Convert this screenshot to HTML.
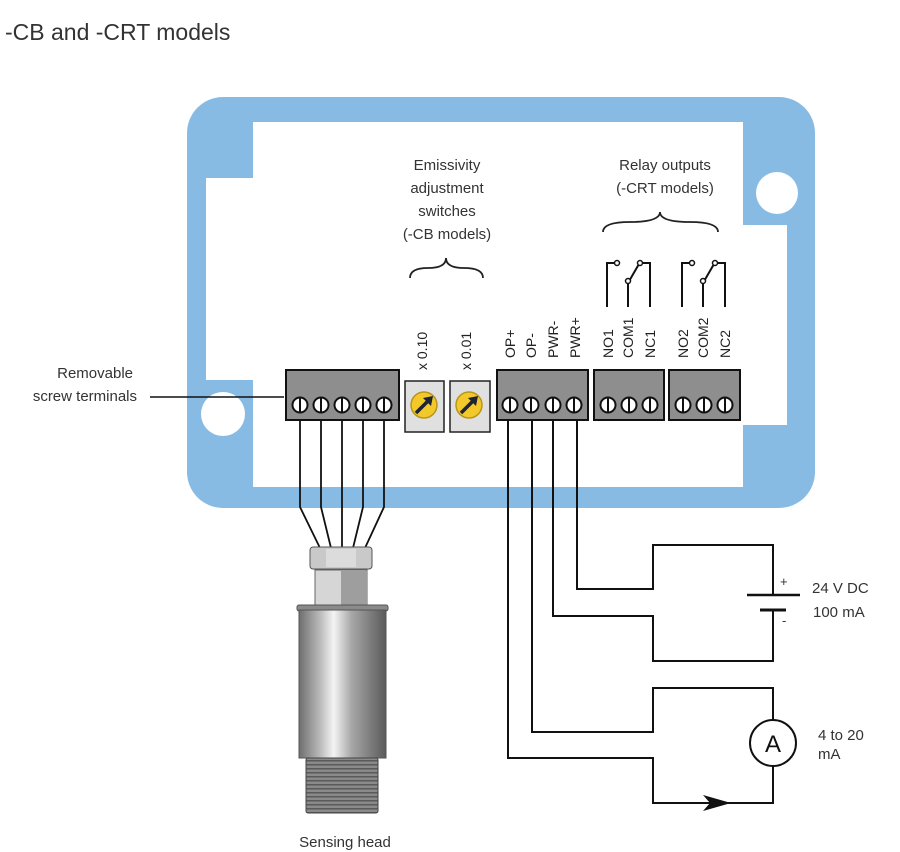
<!DOCTYPE html>
<html><head><meta charset="utf-8"><style>
html,body{margin:0;padding:0;background:#fff;}
svg{display:block;font-family:"Liberation Sans",sans-serif;}
</style></head><body>
<svg width="900" height="852" viewBox="0 0 900 852" xmlns="http://www.w3.org/2000/svg">
<defs>
<linearGradient id="cyl" x1="0" x2="1" y1="0" y2="0">
<stop offset="0" stop-color="#6e6e6e"/><stop offset="0.25" stop-color="#bdbdbd"/><stop offset="0.4" stop-color="#f4f4f4"/><stop offset="0.6" stop-color="#a8a8a8"/><stop offset="1" stop-color="#5a5a5a"/>
</linearGradient>
<pattern id="thr" width="10" height="4" patternUnits="userSpaceOnUse"><rect width="10" height="4" fill="#8a8a8a"/><rect width="10" height="1.5" fill="#5a5a5a"/></pattern>
</defs>
<text x="5" y="40" font-size="23" fill="#333">-CB and -CRT models</text>
<!-- enclosure -->
<rect x="187" y="97" width="628" height="411" rx="36" fill="#88bbe4"/>
<path d="M253 122 H743 V225 H787 V425 H743 V487 H253 V380 H206 V178 H253 Z" fill="#fff"/>
<circle cx="777" cy="193" r="21" fill="#fff"/>
<circle cx="223" cy="414" r="22" fill="#fff"/>
<!-- labels -->
<g font-size="15" fill="#333" text-anchor="middle">
<text x="447" y="170">Emissivity</text><text x="447" y="193">adjustment</text><text x="447" y="216">switches</text><text x="447" y="239">(-CB models)</text>
<text x="665" y="170">Relay outputs</text><text x="665" y="193">(-CRT models)</text>
</g>
<g font-size="15" fill="#333" text-anchor="end">
<text x="133" y="378">Removable</text><text x="137" y="401">screw terminals</text>
</g>
<line x1="150" y1="397" x2="284" y2="397" stroke="#111" stroke-width="1.5"/>
<g fill="none" stroke="#222" stroke-width="1.8">
<path d="M410 278 Q410 268 428 268 Q446 268 446 258 Q446 268 464 268 Q483 268 483 278"/>
<path d="M603 232 Q603 222 630 222 Q660 222 660 212 Q660 222 690 222 Q718 222 718 232"/>
</g>
<!-- relays -->
<g fill="none" stroke="#111" stroke-width="2">
<path d="M607 307 V263 H615"/><path d="M628 307 V283 L639 264"/><path d="M641 263 H650 V307"/>
<path d="M682 307 V263 H690"/><path d="M703 307 V283 L714 264"/><path d="M716 263 H725 V307"/>
</g>
<g fill="#fff" stroke="#111" stroke-width="1.5">
<circle cx="617" cy="263" r="2.5"/><circle cx="628" cy="281" r="2.5"/><circle cx="640" cy="263" r="2.5"/>
<circle cx="692" cy="263" r="2.5"/><circle cx="703" cy="281" r="2.5"/><circle cx="715" cy="263" r="2.5"/>
</g>
<!-- rotated labels -->
<g font-size="14" fill="#222">
<text transform="translate(427,370) rotate(-90)">x 0.10</text>
<text transform="translate(471,370) rotate(-90)">x 0.01</text>
<text transform="translate(515,358) rotate(-90)">OP+</text>
<text transform="translate(536,358) rotate(-90)">OP-</text>
<text transform="translate(558,358) rotate(-90)">PWR-</text>
<text transform="translate(580,358) rotate(-90)">PWR+</text>
<text transform="translate(613,358) rotate(-90)">NO1</text>
<text transform="translate(633,358) rotate(-90)">COM1</text>
<text transform="translate(655,358) rotate(-90)">NC1</text>
<text transform="translate(688,358) rotate(-90)">NO2</text>
<text transform="translate(708,358) rotate(-90)">COM2</text>
<text transform="translate(730,358) rotate(-90)">NC2</text>
</g>
<!-- terminal blocks -->
<g stroke="#111" stroke-width="2" fill="#8e8e8e">
<rect x="286" y="370" width="113" height="50"/>
<rect x="497" y="370" width="91" height="50"/>
<rect x="594" y="370" width="70" height="50"/>
<rect x="669" y="370" width="71" height="50"/>
</g>
<g fill="#fff" stroke="#111" stroke-width="2">
<circle cx="300" cy="405" r="7.5"/><circle cx="321" cy="405" r="7.5"/><circle cx="342" cy="405" r="7.5"/><circle cx="363" cy="405" r="7.5"/><circle cx="384" cy="405" r="7.5"/>
<circle cx="510" cy="405" r="7.5"/><circle cx="531" cy="405" r="7.5"/><circle cx="553" cy="405" r="7.5"/><circle cx="574" cy="405" r="7.5"/>
<circle cx="608" cy="405" r="7.5"/><circle cx="629" cy="405" r="7.5"/><circle cx="650" cy="405" r="7.5"/>
<circle cx="683" cy="405" r="7.5"/><circle cx="704" cy="405" r="7.5"/><circle cx="725" cy="405" r="7.5"/>
</g>
<g stroke="#111" stroke-width="2">
<path d="M300 398V412M321 398V412M342 398V412M363 398V412M384 398V412M510 398V412M531 398V412M553 398V412M574 398V412M608 398V412M629 398V412M650 398V412M683 398V412M704 398V412M725 398V412"/>
</g>
<!-- switches -->
<g stroke="#222" stroke-width="1.5">
<rect x="405" y="381" width="39" height="51" fill="#e0e0e0"/>
<rect x="450" y="381" width="40" height="51" fill="#e0e0e0"/>
</g>
<g>
<circle cx="424" cy="405" r="13" fill="#f2c82a" stroke="#b8961a" stroke-width="1.5"/>
<circle cx="469" cy="405" r="13" fill="#f2c82a" stroke="#b8961a" stroke-width="1.5"/>
<path d="M416 413 L429 400" stroke="#1c2436" stroke-width="3.5"/><path d="M433 396 L423 398 L431 406 Z" fill="#1c2436"/>
<path d="M461 413 L474 400" stroke="#1c2436" stroke-width="3.5"/><path d="M478 396 L468 398 L476 406 Z" fill="#1c2436"/>
</g>
<!-- sensor wires -->
<g fill="none" stroke="#111" stroke-width="1.8">
<path d="M300 420 V507 L320 548"/><path d="M321 420 V507 L331 548"/><path d="M342 420 V548"/><path d="M363 420 V507 L353 548"/><path d="M384 420 V507 L365 548"/>
</g>
<!-- sensor -->
<rect x="310" y="547" width="62" height="22" rx="3" fill="#c9c9c9" stroke="#555" stroke-width="1"/>
<rect x="326" y="549" width="30" height="18" fill="#dcdcdc"/>
<rect x="315" y="570" width="52" height="36" fill="#d6d6d6" stroke="#666" stroke-width="1"/>
<rect x="341" y="571" width="25" height="34" fill="#9e9e9e"/>
<rect x="297" y="605" width="91" height="6" rx="2" fill="#8a8a8a" stroke="#555" stroke-width="1"/>
<rect x="299" y="610" width="87" height="148" fill="url(#cyl)" stroke="#555" stroke-width="1"/>
<rect x="306" y="758" width="72" height="55" rx="2" fill="url(#thr)" stroke="#444" stroke-width="1"/>
<text x="345" y="847" font-size="15" fill="#333" text-anchor="middle">Sensing head</text>
<!-- circuits -->
<g fill="none" stroke="#111" stroke-width="2">
<path d="M508 420 V758 H653 V803 H773 V766"/>
<path d="M773 720 V688 H653 V732 H532 V420"/>
<path d="M553 420 V616 H653 V661 H773 V610"/>
<path d="M773 595 V545 H653 V589 H577 V420"/>
<path d="M747 595 H800" stroke-width="2.5"/>
<path d="M760 610 H786" stroke-width="3"/>
</g>
<circle cx="773" cy="743" r="23" fill="#fff" stroke="#111" stroke-width="2"/>
<text x="773" y="752" font-size="24" text-anchor="middle" fill="#111">A</text>
<path d="M703 795 L731 803 L703 811 L710 803 Z" fill="#111"/>
<g font-size="15" fill="#333">
<text x="780" y="586" font-size="13">+</text><text x="782" y="625" font-size="13">-</text>
<text x="812" y="593">24 V DC</text><text x="813" y="617">100 mA</text>
<text x="818" y="740">4 to 20</text><text x="818" y="759">mA</text>
</g>
</svg>
</body></html>
